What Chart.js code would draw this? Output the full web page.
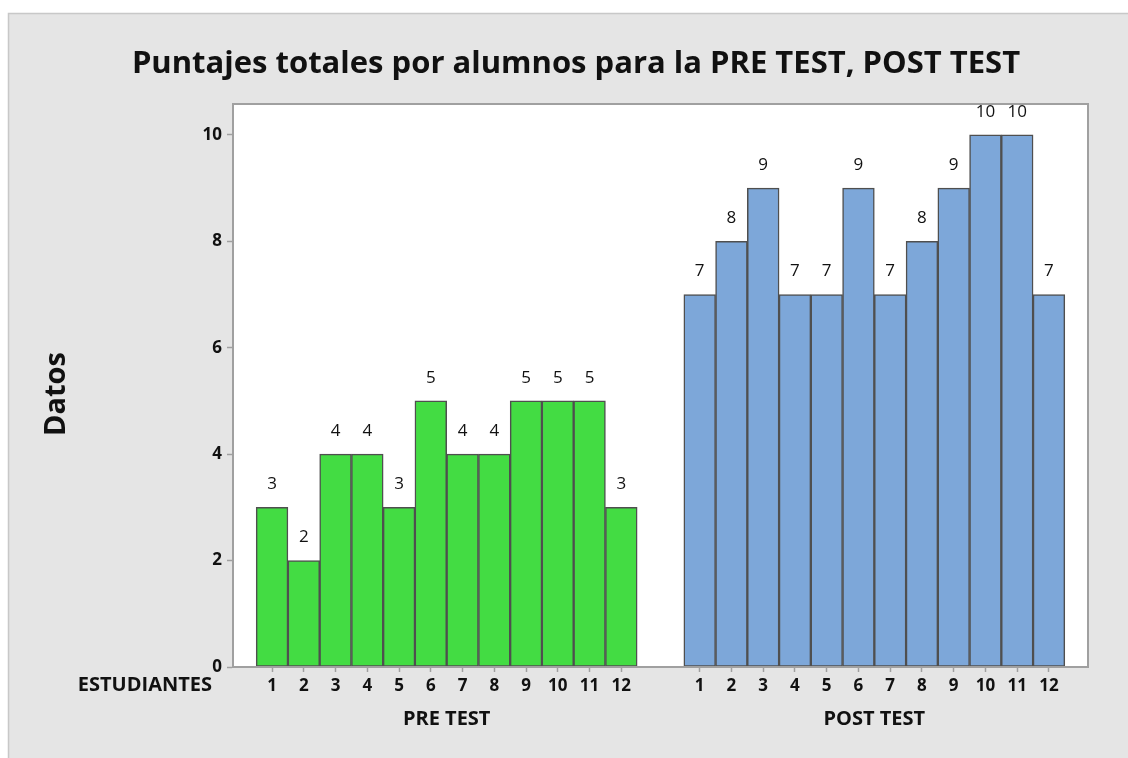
<!DOCTYPE html>
<html>
<head>
<meta charset="utf-8">
<script src="https://cdn.jsdelivr.net/npm/chart.js@4.4.1/dist/chart.umd.min.js"></script>
<style>
  html, body { margin: 0; padding: 0; background: #ffffff; }
  canvas { display: block; }
</style>
</head>
<body>
<canvas id="c" width="1128" height="758"></canvas>
<script>
// ---- data ----
const studentLabels = ['1','2','3','4','5','6','7','8','9','10','11','12'];
const preTest  = [3, 2, 4, 4, 3, 5, 4, 4, 5, 5, 5, 3];
const postTest = [7, 8, 9, 7, 7, 9, 7, 8, 9, 10, 10, 7];
const groupNames = ['PRE TEST', 'POST TEST'];
const yTicks = [0, 2, 4, 6, 8, 10];
const titleText = 'Puntajes totales por alumnos para la PRE TEST, POST TEST';
const yTitle = 'Datos';
const xTitle = 'ESTUDIANTES';

// ---- layout constants ----
const GROUP_GAP = 1.47;       // gap between groups (in bar widths)
const SIDE_PAD = 0.73;        // margin outside bars (in bar widths)
const preX  = preTest.map((v, i) => i);
const postStart = preTest.length + GROUP_GAP;
const postX = postTest.map((v, i) => postStart + i);
const xMin = -0.5 - SIDE_PAD;
const xMax = postX[postX.length - 1] + 0.5 + SIDE_PAD;
const tickPositions = preX.concat(postX);
const tickLabelFor = new Map();
preX.forEach((x, i) => tickLabelFor.set(x.toFixed(3), studentLabels[i]));
postX.forEach((x, i) => tickLabelFor.set(x.toFixed(3), studentLabels[i]));

const FONT = '"Open Sans", "Noto Sans", sans-serif';
const AXIS_GRAY = '#a0a0a0';

const framePlugin = {
  id: 'frame',
  beforeDraw(chart) {
    const ctx = chart.ctx;
    ctx.save();
    ctx.fillStyle = '#ffffff';
    ctx.fillRect(0, 0, chart.width, chart.height);
    ctx.fillStyle = '#e5e5e5';
    ctx.fillRect(8, 13, chart.width - 8, chart.height - 13);
    ctx.strokeStyle = '#c8c8c8';
    ctx.lineWidth = 1.5;
    ctx.beginPath();
    ctx.moveTo(8.5, chart.height);
    ctx.lineTo(8.5, 13.5);
    ctx.lineTo(chart.width, 13.5);
    ctx.stroke();
    const a = chart.chartArea;
    ctx.fillStyle = '#ffffff';
    ctx.fillRect(a.left, a.top, a.right - a.left, a.bottom - a.top);
    ctx.restore();
  },
  afterDatasetsDraw(chart) {
    const ctx = chart.ctx;
    const a = chart.chartArea;
    ctx.save();
    // plot frame
    ctx.strokeStyle = AXIS_GRAY;
    ctx.lineWidth = 2;
    ctx.strokeRect(a.left, a.top, a.right - a.left, a.bottom - a.top);
    // value labels
    ctx.fillStyle = '#111111';
    ctx.font = '17px ' + FONT;
    ctx.textAlign = 'center';
    ctx.textBaseline = 'middle';
    chart.data.datasets.forEach((ds, di) => {
      const meta = chart.getDatasetMeta(di);
      meta.data.forEach((bar, i) => {
        ctx.fillText(String(ds.data[i].y), bar.x, bar.y - 23);
      });
    });
    // title
    ctx.font = 'bold 31px ' + FONT;
    ctx.textBaseline = 'alphabetic';
    ctx.fillStyle = '#111111';
    ctx.fillText(titleText, 576, 73);
    // group labels
    const xs = chart.scales.x;
    ctx.font = 'bold 20px ' + FONT;
    ctx.textBaseline = 'middle';
    const preMid = (preX[0] + preX[preX.length - 1]) / 2;
    const postMid = (postX[0] + postX[postX.length - 1]) / 2;
    ctx.fillText(groupNames[0], xs.getPixelForValue(preMid), 719);
    ctx.fillText(groupNames[1], xs.getPixelForValue(postMid), 719);
    // x title
    ctx.textAlign = 'right';
    ctx.fillText(xTitle, 212, 685);
    // y title
    ctx.translate(57, 394);
    ctx.rotate(-Math.PI / 2);
    ctx.textAlign = 'center';
    ctx.font = 'bold 29px ' + FONT;
    ctx.fillText(yTitle, 0, 0);
    ctx.restore();
  }
};

new Chart(document.getElementById('c'), {
  type: 'bar',
  data: {
    datasets: [
      {
        label: groupNames[0],
        data: preTest.map((v, i) => ({ x: preX[i], y: v })),
        backgroundColor: '#43dc43',
        borderColor: '#4f4f4f',
        borderWidth: 1.5,
        borderSkipped: false,
        barPercentage: 1,
        categoryPercentage: 1
      },
      {
        label: groupNames[1],
        data: postTest.map((v, i) => ({ x: postX[i], y: v })),
        backgroundColor: '#7da7d9',
        borderColor: '#4f4f4f',
        borderWidth: 1.5,
        borderSkipped: false,
        barPercentage: 1,
        categoryPercentage: 1
      }
    ]
  },
  options: {
    responsive: false,
    devicePixelRatio: 1,
    animation: false,
    layout: { padding: { left: 0, top: 104, right: 40, bottom: 0 } },
    plugins: {
      legend: { display: false },
      title: { display: false },
      tooltip: { enabled: false }
    },
    scales: {
      x: {
        type: 'linear',
        stacked: true,
        offset: false,
        min: xMin,
        max: xMax,
        afterFit(scale) { scale.height = 91; },
        afterBuildTicks(scale) { scale.ticks = tickPositions.map(v => ({ value: v })); },
        grid: { offset: false, drawOnChartArea: false, drawTicks: true, tickLength: 5, tickColor: AXIS_GRAY, tickWidth: 1.5 },
        border: { display: true, color: AXIS_GRAY, width: 2 },
        ticks: {
          autoSkip: false,
          maxRotation: 0,
          padding: 4,
          color: '#111111',
          font: { family: FONT, size: 17, weight: 'bold' },
          callback(value) { return tickLabelFor.get(Number(value).toFixed(3)) || ''; }
        }
      },
      y: {
        min: 0,
        max: 10.58,
        afterFit(scale) { scale.width = 233; },
        afterBuildTicks(scale) { scale.ticks = yTicks.map(v => ({ value: v })); },
        grid: { drawOnChartArea: false, drawTicks: true, tickLength: 6, tickColor: AXIS_GRAY, tickWidth: 1.5 },
        border: { display: true, color: AXIS_GRAY, width: 2 },
        ticks: {
          padding: 5,
          color: '#111111',
          font: { family: FONT, size: 17, weight: 'bold' }
        }
      }
    }
  },
  plugins: [framePlugin]
});
</script>
</body>
</html>
